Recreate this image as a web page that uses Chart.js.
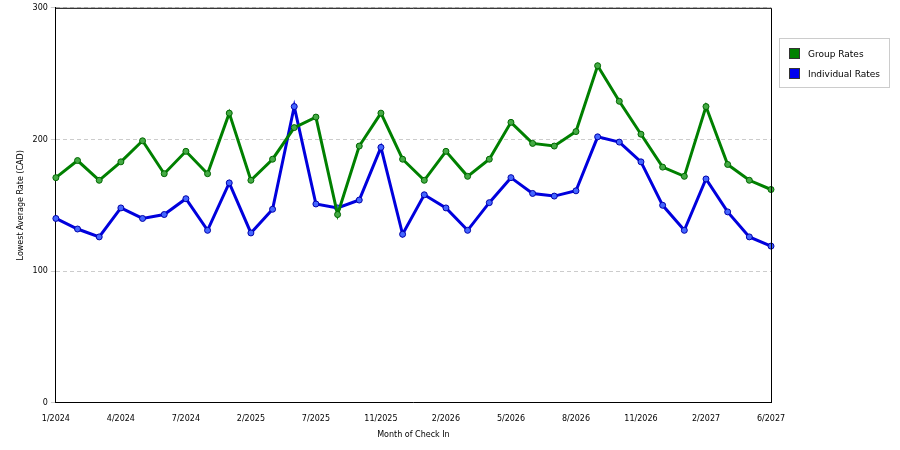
<!DOCTYPE html>
<html><head><meta charset="utf-8">
<script src="https://cdn.jsdelivr.net/npm/chart.js@4"></script>
<style>
html,body{margin:0;padding:0;background:#fff;font-family:"DejaVu Sans",sans-serif}
#wrap{position:relative;width:900px;height:450px}
#lg{position:absolute;left:779px;top:38px;width:109px;height:48px;border:1px solid #ccc;font-size:9px;color:#000}
.it{position:absolute;left:9px;display:flex;align-items:center}
.sw{width:11px;height:11px;margin-right:8px;border:1px solid #333;box-sizing:border-box}
</style></head><body>
<div id="wrap"><canvas id="c" width="900" height="450"></canvas>
<div id="lg"><div class="it" style="top:9px"><span class="sw" style="background:#008000"></span>Group Rates</div>
<div class="it" style="top:29px"><span class="sw" style="background:#0000ee"></span>Individual Rates</div></div></div>
<script>
const categories=["1/2024","2/2024","3/2024","4/2024","5/2024","6/2024","7/2024","8/2024","10/2024","2/2025","3/2025","6/2025","7/2025","8/2025","10/2025","11/2025","12/2025","1/2026","2/2026","3/2026","4/2026","5/2026","6/2026","7/2026","8/2026","9/2026","10/2026","11/2026","12/2026","1/2027","2/2027","3/2027","5/2027","6/2027"];
const groupRates=[171,184,169,183,199,174,191,174,220,169,185,209,217,143,195,220,185,169,191,172,185,213,197,195,206,256,229,204,179,172,225,181,169,162];
const individualRates=[140,132,126,148,140,143,155,131,167,129,147,225,151,148,154,194,128,158,148,131,152,171,159,157,161,202,198,183,150,131,170,145,126,119];
const frame={id:'frame',afterDraw(c){const a=c.chartArea,x=c.ctx;x.save();x.strokeStyle='#000';x.lineWidth=1;x.beginPath();x.moveTo(a.left,a.top+.5);x.lineTo(a.right+.5,a.top+.5);x.lineTo(a.right+.5,a.bottom);x.stroke();x.restore();}};
new Chart(document.getElementById('c'),{type:'line',
data:{labels:categories,datasets:[
{label:'Group Rates',data:groupRates,borderColor:'#008000',backgroundColor:'#44aa44',pointBorderColor:'#006600',borderWidth:3,pointRadius:3,pointBorderWidth:1,tension:0},
{label:'Individual Rates',data:individualRates,borderColor:'#0000dd',backgroundColor:'#4466ff',pointBorderColor:'#0000aa',borderWidth:3,pointRadius:3,pointBorderWidth:1,tension:0}]},
options:{responsive:false,animation:false,layout:{padding:{left:12,right:129,top:0,bottom:6}},
plugins:{legend:{display:false},tooltip:{enabled:false}},
scales:{
x:{offset:false,grid:{display:false,drawTicks:true},border:{color:'#000'},
ticks:{autoSkip:false,maxRotation:0,color:'#000',font:{size:8,family:'DejaVu Sans'},callback:(v,i)=>i%3===0?categories[i]:''},
title:{display:true,text:'Month of Check In',color:'#000',font:{size:8,family:'DejaVu Sans'}}},
y:{min:0,max:300,ticks:{stepSize:100,color:'#000',font:{size:8,family:'DejaVu Sans'}},
grid:{color:'#ccc',tickLength:5,drawTicks:true},border:{color:'#000',dash:[4,3]},
title:{display:true,text:'Lowest Average Rate (CAD)',color:'#000',font:{size:8,family:'DejaVu Sans'}}}}},
plugins:[frame]});
</script></body></html>
